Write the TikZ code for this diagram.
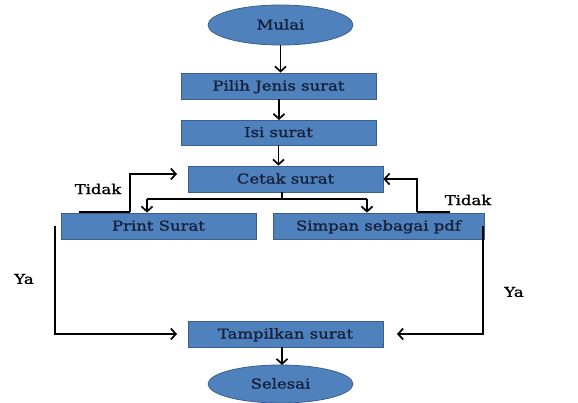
\documentclass[tikz,border=0pt]{standalone}
\usepackage{fontspec}
\setmainfont[FakeStretch=1.22,FakeBold=1.2]{DejaVu Serif}
\usetikzlibrary{shapes.geometric,arrows.meta}
\definecolor{boxfill}{HTML}{4F81BD}
\definecolor{boxedge}{HTML}{3A5F8E}
\definecolor{boxtext}{HTML}{16203A}
\begin{document}
\begin{tikzpicture}[x=1pt,y=-1pt,
  proc/.style={rectangle,draw=boxedge,fill=boxfill,line width=0.8pt,minimum height=26pt,inner sep=0pt,text=boxtext,font=\fontsize{13.5}{15}\selectfont,text height=11pt,text depth=2pt},
  term/.style={ellipse,draw=boxedge,fill=boxfill,line width=0.8pt,minimum width=145pt,minimum height=40pt,inner sep=0pt,text=boxtext,font=\fontsize{13.5}{15}\selectfont,text height=11pt,text depth=2pt},
  conn/.style={line width=1.7pt,black},
  arr/.style={conn,-{Straight Barb[length=5pt,width=11pt,line width=1.7pt]}},
  lbl/.style={font=\fontsize{13.5}{15}\selectfont,text=black,inner sep=0pt}]
\useasboundingbox (0,0) rectangle (578,402);
\node[term] (mulai) at (280.5,25) {Mulai};
\node[proc,minimum width=195pt] (pilih) at (278.5,86) {Pilih Jenis surat};
\node[proc,minimum width=195pt,minimum height=25pt] (isi) at (278.5,132.5) {Isi surat};
\node[proc,minimum width=195pt] (cetak) at (285.5,179) {Cetak surat};
\node[proc,minimum width=195pt] (print) at (158.5,226) {Print Surat};
\node[proc,minimum width=211pt] (simpan) at (378.5,226) {Simpan sebagai pdf};
\node[proc,minimum width=195pt] (tampil) at (285.5,334) {Tampilkan surat};
\node[term,minimum height=38pt] (selesai) at (280.5,384) {Selesai};
\node[lbl] (tidakL) at (98,189) {Tidak};
\node[lbl] (tidakR) at (468,200) {Tidak};
\node[lbl] (yaL) at (24,279) {Ya};
\node[lbl] (yaR) at (514,292) {Ya};
\coordinate (split) at (282,199);
\coordinate (sl) at (147,199);
\coordinate (sr) at (367,199);
\coordinate (tl1) at (79,212);
\coordinate (tl2) at (130,212);
\coordinate (tl3) at (130,174);
\coordinate (tlend) at (177,174);
\coordinate (tr1) at (450,212);
\coordinate (tr2) at (417,212);
\coordinate (tr3) at (417,179);
\coordinate (yl1) at (55,226);
\coordinate (yl2) at (55,334);
\coordinate (ylend) at (177,334);
\coordinate (yr1) at (483,226);
\coordinate (yr2) at (483,334);
\coordinate (yrend) at (397,334);
\draw[arr] (mulai.south) -- (mulai.south |- pilih.north);
\draw[arr] (279,99) -- (279,120);
\draw[arr] (isi.south) -- (isi.south |- cetak.north);
\draw[conn] (split |- cetak.south) -- (split);
\draw[conn] (sl) -- (sr);
\draw[arr] (sl) -- (sl |- print.north);
\draw[arr] (sr) -- (sr |- simpan.north);
\draw[conn] (tl1) -- (tl2);
\draw[arr] (tl2) -- (tl3) -- (tlend);
\draw[conn] (tr1) -- (tr2);
\draw[arr] (tr2) -- (tr3) -- (cetak.east |- tr3);
\draw[arr] (yl1) -- (yl2) -- (ylend);
\draw[arr] (yr1) -- (yr2) -- (yrend);
\draw[arr] (282,347) -- (282,365);
\end{tikzpicture}
\end{document}
